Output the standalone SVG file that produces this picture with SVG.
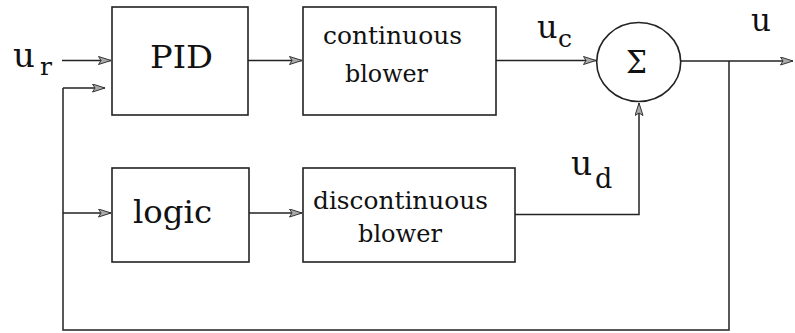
<svg xmlns="http://www.w3.org/2000/svg" width="795" height="333" viewBox="0 0 795 333">
<style>
.box{fill:#fff;stroke:#222;stroke-width:1.6}
.ln{fill:none;stroke:#222;stroke-width:1.5;marker-end:url(#ah)}
.pl{fill:none;stroke:#222;stroke-width:1.5}
text{font-family:'DejaVu Serif','Liberation Serif',serif;fill:#111}
.big{font-size:32px}
.mid{font-size:25px}
.u{font-size:34px}
.sub{font-size:25px}
</style>
<defs>
<marker id="ah" markerUnits="userSpaceOnUse" markerWidth="15" markerHeight="10" refX="13" refY="4.5" orient="auto">
<path d="M0.5,0.5 L13,4.5 L0.5,8.5 L3,4.5 Z" fill="#aaa" stroke="#333" stroke-width="1"/>
</marker>
</defs>
<rect width="795" height="333" fill="#fff"/>
<g id="connectors">
<path class="ln" d="M62,60.5 H111"/>
<path class="pl" d="M729,61 V330 H63 V88"/>
<path class="ln" d="M63,88 H105"/>
<path class="ln" d="M63,213 H111"/>
<path class="ln" d="M248,60.5 H302"/>
<path class="ln" d="M496,60.5 H596"/>
<path class="ln" d="M681,61 H793"/>
<path class="ln" d="M249,213 H302"/>
<path class="ln" d="M515,214.5 H639 V103"/>
</g>
<g id="ur-label">
<text class="u" x="13" y="67">u</text>
<text class="sub" x="40" y="75">r</text>
</g>
<g id="pid">
<rect class="box" x="112" y="7" width="136" height="108"/>
<text class="big" x="150" y="68" textLength="63" lengthAdjust="spacingAndGlyphs">PID</text>
</g>
<g id="continuous-blower">
<rect class="box" x="303" y="7" width="193" height="108"/>
<text class="mid" x="323" y="44" textLength="139" lengthAdjust="spacingAndGlyphs">continuous</text>
<text class="mid" x="345" y="82" textLength="83" lengthAdjust="spacingAndGlyphs">blower</text>
</g>
<g id="uc-label">
<text class="u" x="537" y="38" style="font-size:32px">u</text>
<text class="sub" x="558" y="47">c</text>
</g>
<g id="sum">
<ellipse cx="638.7" cy="62" rx="42" ry="39.5" fill="#fff" stroke="#222" stroke-width="1.6"/>
<text x="626" y="73" style="font-size:32px" textLength="21" lengthAdjust="spacingAndGlyphs">Σ</text>
</g>
<g id="u-label">
<text class="u" x="751" y="31" style="font-size:31px">u</text>
</g>
<g id="logic">
<rect class="box" x="112" y="168" width="137" height="94"/>
<text class="big" x="133" y="223" textLength="79" lengthAdjust="spacingAndGlyphs">logic</text>
</g>
<g id="discontinuous-blower">
<rect class="box" x="303" y="168" width="212" height="94"/>
<text class="mid" x="313" y="209" textLength="175" lengthAdjust="spacingAndGlyphs">discontinuous</text>
<text class="mid" x="358" y="242" textLength="84" lengthAdjust="spacingAndGlyphs">blower</text>
</g>
<g id="ud-label">
<text class="u" x="571" y="175" style="font-size:33px">u</text>
<text class="sub" x="595" y="188" style="font-size:27px">d</text>
</g>
</svg>
